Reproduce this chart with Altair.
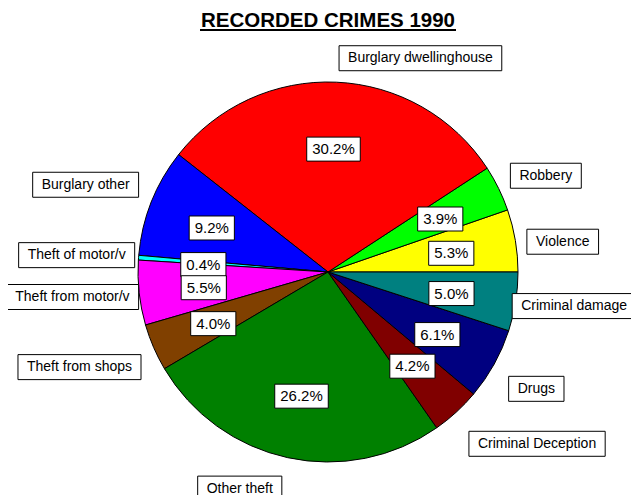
import math
import altair as alt
import pandas as pd

# ---- data (counter-clockwise from 3 o'clock, as in the original) ----
categories = ["Violence", "Robbery", "Burglary dwellinghouse", "Burglary other",
              "Theft of motor/v", "Theft from motor/v", "Theft from shops",
              "Other theft", "Criminal Deception", "Drugs", "Criminal damage"]
shares = [5.3, 3.9, 30.2, 9.2, 0.4, 5.5, 4.0, 26.2, 4.2, 6.1, 5.0]
colors = ["#FFFF00", "#00FF00", "#FF0000", "#0000FF", "#00FFFF", "#FF00FF",
          "#804000", "#008000", "#800000", "#000080", "#008080"]
title_text = "RECORDED CRIMES 1990"

# ---- layout ----
W, H = 623, 487
CX, CY, R = 320, 264, 190
R_PCT, R_CAT = 125, 237
FONT = "Liberation Sans, Arial, sans-serif"
CAT_SIZE, PCT_SIZE = 14, 15
# label nudges (dx, dy) in px, like Excel's hand-placed data labels
cat_nudge = [(1, 9), (5, 8), (82, 23), (-22, 0), (-15, 1), (-20, -1),
             (-31, 1), (-38, -15), (49, -3), (1, 2), (12, -3)]

AW = {" ": 278, "%": 889, ".": 278, "/": 278, "A": 667, "B": 667, "C": 722,
      "D": 722, "E": 667, "I": 278, "M": 833, "O": 778, "R": 722, "S": 667,
      "T": 611, "V": 667, "a": 556, "b": 556, "c": 500, "d": 556, "e": 556,
      "f": 278, "g": 556, "h": 556, "i": 222, "k": 500, "l": 222, "m": 833,
      "n": 556, "o": 556, "p": 556, "r": 333, "s": 500, "t": 278, "u": 556,
      "v": 500, "w": 722, "y": 500}


def text_w(s, size):
    return sum(AW.get(ch, 556) for ch in s) / 1000.0 * size


rows, labs = [], []
cum = 0.0
total = sum(shares)
for i, (c, v, col) in enumerate(zip(categories, shares, colors)):
    mid = cum + v / 2
    cum += v
    a = 2 * math.pi * mid / total
    rows.append({"cat": c, "share": v, "color": col, "idx": i})
    # percent label
    pl = f"{v:.1f}%"
    px, py = CX + R_PCT * math.cos(a), CY - R_PCT * math.sin(a) + 2
    pw = text_w(pl, PCT_SIZE) + 11
    labs.append({"label": pl, "tx": px, "ty": py, "x0": px - pw / 2, "x1": px + pw / 2,
                 "y0": py - 12, "y1": py + 12, "size": PCT_SIZE})
    # category label
    dx, dy = cat_nudge[i]
    qx, qy = CX + R_CAT * math.cos(a) + dx, CY - R_CAT * math.sin(a) + dy
    qw = text_w(c, CAT_SIZE) + 18
    labs.append({"label": c, "tx": qx, "ty": qy, "x0": qx - qw / 2, "x1": qx + qw / 2,
                 "y0": qy - 12.5, "y1": qy + 12.5, "size": CAT_SIZE})

df = pd.DataFrame(rows)
lab = pd.DataFrame(labs)

xs = alt.Scale(domain=[0, W], nice=False, zero=False)
ys = alt.Scale(domain=[0, H], nice=False, zero=False, reverse=True)

pie = alt.Chart(df).mark_arc(radius=R, stroke="black", strokeWidth=1).encode(
    theta=alt.Theta("share:Q", stack=True,
                    scale=alt.Scale(range=[math.pi / 2, math.pi / 2 + 2 * math.pi])),
    order=alt.Order("idx:Q", sort="descending"),
    color=alt.Color("color:N", scale=None),
    x=alt.value(CX), y=alt.value(CY),
)

boxes = alt.Chart(lab).mark_rect(fill="white", stroke="black", strokeWidth=1).encode(
    x=alt.X("x0:Q", scale=xs, axis=None), x2="x1:Q",
    y=alt.Y("y0:Q", scale=ys, axis=None), y2="y1:Q",
)

texts = alt.Chart(lab).mark_text(font=FONT, color="black", baseline="middle",
                                 align="center").encode(
    x=alt.X("tx:Q", scale=xs, axis=None),
    y=alt.Y("ty:Q", scale=ys, axis=None),
    text="label:N",
    size=alt.Size("size:Q", scale=None, legend=None),
)

tdf = pd.DataFrame({"t": [title_text]})
title = alt.Chart(tdf).mark_text(font=FONT, fontWeight="bold", fontSize=20.5,
                                 color="black", align="center",
                                 baseline="alphabetic").encode(
    x=alt.value(CX), y=alt.value(19), text="t:N")
underline = alt.Chart(tdf).mark_rule(color="black", strokeWidth=2).encode(
    x=alt.value(CX - 128), x2=alt.value(CX + 128), y=alt.value(22))

chart = alt.layer(pie, boxes, texts, title, underline).properties(
    width=W, height=H, padding=0, autosize="none"
).configure_view(stroke=None)

chart.save("out.html", embed_options={"renderer": "svg", "actions": False})
